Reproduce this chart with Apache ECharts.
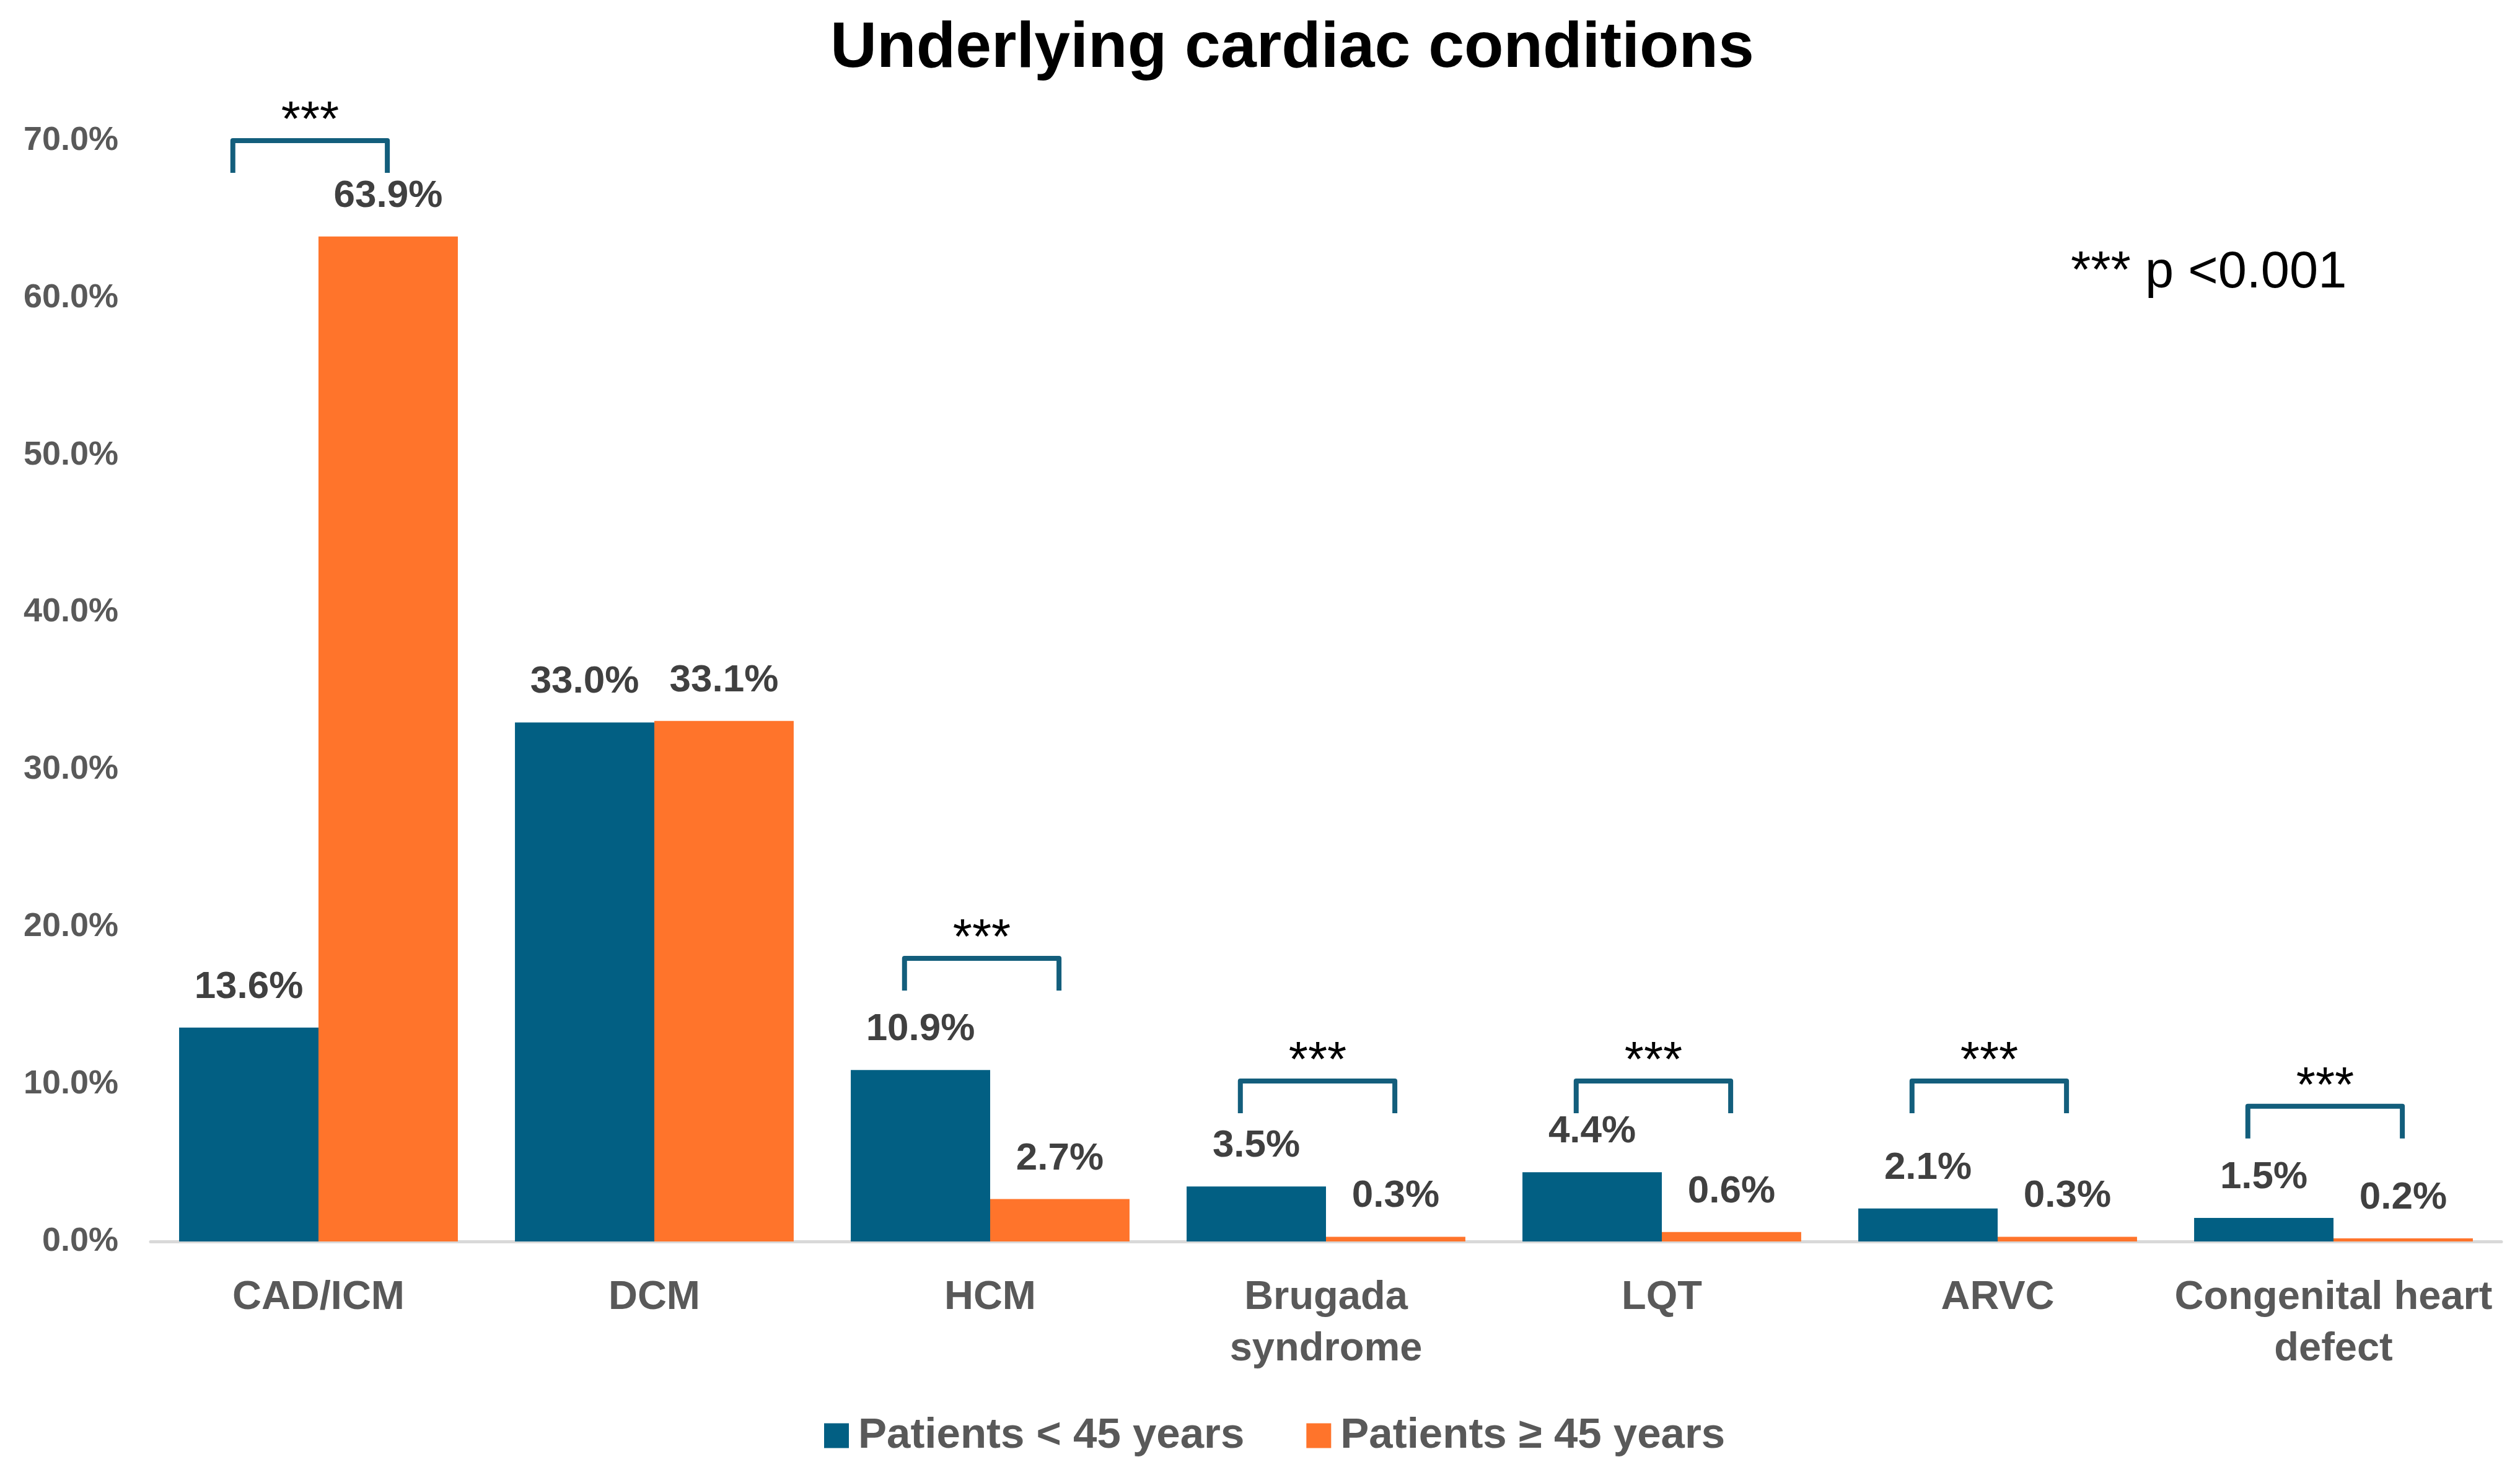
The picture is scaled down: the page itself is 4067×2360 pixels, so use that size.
<!DOCTYPE html>
<html>
<head>
<meta charset="utf-8">
<script src="https://cdn.jsdelivr.net/npm/echarts@6/dist/echarts.min.js"></script>
<style>
html,body{margin:0;padding:0;background:#fff;}
#chart{width:4067px;height:2360px;}
</style>
</head>
<body>
<div id="chart"></div>
<script>
const categories = ['CAD/ICM', 'DCM', 'HCM', 'Brugada\nsyndrome', 'LQT', 'ARVC', 'Congenital heart\ndefect'];
const seriesNames = ['Patients < 45 years', 'Patients \u2265 45 years'];
const youngValues = [13.6, 33.0, 10.9, 3.5, 4.4, 2.1, 1.5];
const olderValues = [63.9, 33.1, 2.7, 0.3, 0.6, 0.3, 0.2];
const yTicks = { min: 0, max: 70, interval: 10 };
const sigCategoryIndex = [0, 2, 3, 4, 5, 6];
const sigBracketTop = [70.0, 18.0, 10.2, 10.2, 10.2, 8.6];
const sigMark = '***';
const titleText = 'Underlying cardiac conditions';
const noteText = '*** p <0.001';

const BLUE = '#025F83';
const ORANGE = '#FF742B';
const BRACKET = '#135E7C';
const FONT = '"Liberation Sans", Arial, sans-serif';

const chart = echarts.init(document.getElementById('chart'));

const bracketData = sigCategoryIndex.map((c, i) => [c, sigBracketTop[i]]);

chart.setOption({
  backgroundColor: '#ffffff',
  animation: false,
  title: {
    text: titleText,
    left: 1335,
    top: 22,
    textStyle: { fontFamily: FONT, fontWeight: 'bold', fontSize: 104, color: '#000000' }
  },
  legend: {
    data: seriesNames,
    left: 1325,
    top: 2278,
    itemWidth: 40,
    itemHeight: 40,
    itemGap: 100,
    icon: 'rect',
    textStyle: { fontFamily: FONT, fontWeight: 'bold', fontSize: 69, color: '#595959', padding: [0, 0, 0, 10] }
  },
  graphic: [{
    type: 'text',
    left: 3342,
    top: 400,
    style: { text: noteText, fontFamily: FONT, fontSize: 83, fill: '#000000' }
  }],
  grid: { left: 243, right: 30, top: 227, bottom: 356, containLabel: false },
  xAxis: {
    type: 'category',
    data: categories,
    axisTick: { show: false },
    axisLine: { lineStyle: { color: '#D9D9D9', width: 5 } },
    axisLabel: {
      fontFamily: FONT, fontWeight: 'bold', fontSize: 65, color: '#595959',
      lineHeight: 83, margin: 50, interval: 0
    }
  },
  yAxis: {
    type: 'value',
    min: yTicks.min, max: yTicks.max, interval: yTicks.interval,
    splitLine: { show: false },
    axisLine: { show: false },
    axisTick: { show: false },
    axisLabel: {
      fontFamily: FONT, fontWeight: 'bold', fontSize: 54, color: '#595959', margin: 52,
      formatter: v => v.toFixed(1) + '%'
    }
  },
  series: [
    {
      name: seriesNames[0], type: 'bar', data: youngValues,
      barGap: '0%', barCategoryGap: '17%',
      itemStyle: { color: BLUE },
      label: {
        show: true, position: 'top', distance: 34,
        fontFamily: FONT, fontWeight: 'bold', fontSize: 62, color: '#404040',
        formatter: p => p.value.toFixed(1) + '%'
      }
    },
    {
      name: seriesNames[1], type: 'bar', data: olderValues,
      barGap: '0%', barCategoryGap: '17%',
      itemStyle: { color: ORANGE },
      label: {
        show: true, position: 'top', distance: 34,
        fontFamily: FONT, fontWeight: 'bold', fontSize: 62, color: '#404040',
        formatter: p => p.value.toFixed(1) + '%'
      }
    },
    {
      type: 'custom',
      name: 'sig',
      clip: false,
      silent: true,
      data: bracketData,
      encode: { x: 0, y: 1 },
      renderItem: function (params, api) {
        const pt = api.coord([api.value(0), api.value(1)]);
        const band = api.size([1, 0])[0];
        const half = band * 0.23;
        const cx = pt[0] - band * 0.025;
        const leg = 52;
        return {
          type: 'group',
          children: [
            {
              type: 'polyline',
              shape: { points: [[cx - half, pt[1] + leg], [cx - half, pt[1]], [cx + half, pt[1]], [cx + half, pt[1] + leg]] },
              style: { stroke: BRACKET, lineWidth: 8, fill: null, lineJoin: 'round', lineCap: 'butt' }
            },
            {
              type: 'text',
              x: cx, y: pt[1] - 30,
              style: { text: sigMark, fontFamily: FONT, fontSize: 80, fill: '#000000', align: 'center', verticalAlign: 'middle' }
            }
          ]
        };
      }
    }
  ]
});
</script>
</body>
</html>
